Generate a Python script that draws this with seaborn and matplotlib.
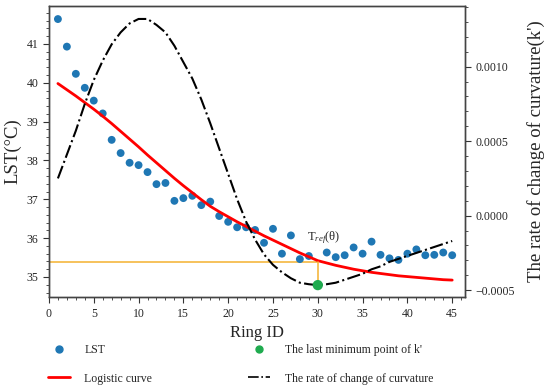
import numpy as np
import pandas as pd
import matplotlib
matplotlib.use('Agg')
import matplotlib.pyplot as plt
import seaborn as sns
from matplotlib.lines import Line2D
from matplotlib.ticker import MultipleLocator, FuncFormatter

# LST per ring (ring 30 not shown in the reference)
ring_id = list(range(1, 30)) + list(range(31, 46))
lst = [41.64, 40.93, 40.23, 39.87, 39.54, 39.21, 38.53, 38.19, 37.94, 37.88,
       37.70, 37.39, 37.42, 36.96, 37.03, 37.09, 36.85, 36.94, 36.57, 36.42,
       36.28, 36.28, 36.21, 35.88, 36.24, 35.60, 36.07, 35.46, 35.54,
       35.63, 35.51, 35.56, 35.76, 35.60, 35.91, 35.57, 35.48, 35.44, 35.60,
       35.71, 35.56, 35.57, 35.63, 35.56]

# fitted logistic curve and rate of change of curvature, read per ring
curve_id = list(range(1, 46))
logistic = [39.98, 39.82, 39.66, 39.49, 39.32, 39.14, 38.95, 38.75, 38.55, 38.35,
            38.14, 37.94, 37.74, 37.54, 37.35, 37.17, 36.99, 36.82, 36.68, 36.55,
            36.42, 36.30, 36.18, 36.06, 35.95, 35.84, 35.73, 35.62, 35.52, 35.42,
            35.36, 35.30, 35.25, 35.20, 35.16, 35.12, 35.09, 35.06, 35.03, 35.01,
            34.99, 34.97, 34.95, 34.93, 34.92]
k_rate = [0.00025, 0.00041, 0.00057, 0.00075, 0.00091, 0.00104, 0.00115, 0.00123,
          0.00129, 0.00132, 0.00132, 0.00128, 0.00123, 0.00114, 0.00103, 0.00092,
          0.00078, 0.00062, 0.00045, 0.00028, 0.00011, -0.00004, -0.00016, -0.00026,
          -0.00033, -0.00038, -0.00042, -0.00045, -0.00046, -0.000466, -0.00046,
          -0.00045, -0.00043, -0.00041, -0.00039, -0.00036, -0.00034, -0.00031,
          -0.00029, -0.00027, -0.00025, -0.00023, -0.00021, -0.00019, -0.00017]

min_id = 30
min_k = -0.000466
t_ref = 35.38

sns.set_style('ticks')
plt.rcParams['font.family'] = ['Liberation Serif', 'DejaVu Serif']
plt.rcParams['mathtext.fontset'] = 'custom'
plt.rcParams['mathtext.rm'] = 'Liberation Serif'
plt.rcParams['mathtext.it'] = 'Liberation Serif:italic'
plt.rcParams['axes.unicode_minus'] = True

blue = '#1f77b4'
green = '#1fab4f'
orange = '#f5b83f'

fig, ax = plt.subplots(figsize=(5.5, 3.9), dpi=100)
fig.subplots_adjust(left=0.089, right=0.845, top=0.985, bottom=0.238)
ax2 = ax.twinx()

sns.scatterplot(x=ring_id, y=lst, ax=ax, color=blue, s=32, edgecolor='none', zorder=3, legend=False)
sns.lineplot(x=curve_id, y=logistic, ax=ax, color='red', lw=2, zorder=4, legend=False)
sns.lineplot(x=curve_id, y=k_rate, ax=ax2, color='black', lw=1.5, linestyle='-.', legend=False)

ax.set_xlim(0, 46.4)
ax.set_ylim(34.48, 41.98)
ax2.set_ylim(-0.000547, 0.001408)

# orange guide: T_ref level to the last minimum of k'
ax.plot([0, min_id], [t_ref, t_ref], color=orange, lw=1.2, zorder=2)
disp = ax.transData.transform((min_id, t_ref))
y_on_ax2 = ax2.transData.inverted().transform(disp)[1]
ax2.plot([min_id, min_id], [y_on_ax2, min_k], color=orange, lw=1.2, zorder=2)
sns.scatterplot(x=[min_id], y=[min_k], ax=ax2, color=green, s=55, edgecolor='none', zorder=5, legend=False)

ax.text(28.8, 36.0, r'T$_{ref}$(θ)', fontsize=9, ha='left', va='center')

ax.set_xlabel('Ring ID', fontsize=12)
ax.set_ylabel('LST(°C)', fontsize=13.5)
ax2.set_ylabel("The rate of change of curvature(k')", fontsize=13.5, labelpad=9)

ax.xaxis.set_major_locator(MultipleLocator(5))
ax.xaxis.set_minor_locator(MultipleLocator(1))
ax.yaxis.set_major_locator(MultipleLocator(1))
ax.yaxis.set_minor_locator(MultipleLocator(0.2))
ax2.yaxis.set_major_locator(MultipleLocator(0.0005))
ax2.yaxis.set_minor_locator(MultipleLocator(0.0001))
ax2.yaxis.set_major_formatter(FuncFormatter(lambda v, p: f'{v:.4f}'.replace('-', '\u2212')))

for a in (ax, ax2):
    a.tick_params(which='major', length=4, width=0.8, labelsize=8.5, color='#333333')
    a.tick_params(which='minor', length=2, width=0.6, color='#333333')
    for s in a.spines.values():
        s.set_visible(True)
        s.set_color('#444444')
        s.set_linewidth(1.0)

handles = [
    Line2D([], [], marker='o', color=blue, linestyle='none', markersize=5),
    Line2D([], [], color='red', lw=2),
    Line2D([], [], marker='o', color=green, linestyle='none', markersize=5),
    Line2D([], [], color='black', lw=1.2, linestyle='-.'),
]
labels = ['LST', 'Logistic curve', "The last minimum point of k'", 'The rate of change of curvature']
fig.legend(handles, labels, loc='upper left', bbox_to_anchor=(0.087, 0.118), ncol=2,
           frameon=False, fontsize=8.5, handlelength=1.9, handletextpad=1.2,
           columnspacing=8.1, labelspacing=1.4, borderpad=0, borderaxespad=0)

fig.savefig('out.png', dpi=100)
